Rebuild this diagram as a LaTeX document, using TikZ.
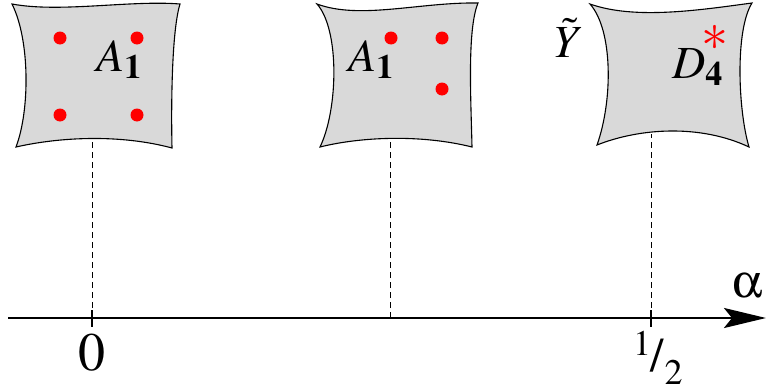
\documentclass[tikz,border=0pt]{standalone}
\usepackage[T1]{fontenc}
\usepackage{mathptmx}
\usepackage[Symbol]{upgreek}
\usetikzlibrary{arrows.meta, calc}

\begin{document}
\begin{tikzpicture}[
    x=1pt, y=-1pt,
    patch/.style={draw=black, line width=1.1pt, fill=black!15},
    sing/.style={circle, fill=red, inner sep=0pt, minimum size=13pt},
    guide/.style={line width=0.9pt, dash pattern=on 6pt off 4pt},
    axis/.style={line width=2.6pt, -{Stealth[length=42pt, width=20pt, inset=8pt]}},
    tick/.style={line width=2pt},
    lbl/.style={inner sep=0pt, anchor=base west, font=\fontsize{46}{46}\selectfont},
    num/.style={inner sep=0pt, font=\fontsize{54}{54}\selectfont},
]
\useasboundingbox (0,0) rectangle (766,388);

% Axis end points and the feet of the guides
\coordinate (ax0) at (8,318);
\coordinate (ax1) at (766,318);
\coordinate (o0) at (92,318);
\coordinate (om) at (390,318);
\coordinate (oh) at (651,318);
\coordinate (b0) at (92,140);
\coordinate (bm) at (390,140);
\coordinate (bh) at (651,134);

% Dashed guides (behind the patches)
\draw[guide] (o0) -- (b0);
\draw[guide] (om) -- (bm);
\draw[guide] (oh) -- (bh);

% Patches: alpha = 0, generic, alpha = 1/2
\draw[patch] (12,4) .. controls (60,13) and (130,0) .. (180,4)
    .. controls (172,30) and (171,100) .. (172,148)
    .. controls (120,134) and (60,137) .. (16,147)
    .. controls (30,110) and (30,40) .. (12,4) -- cycle;
\draw[patch] (317,4) .. controls (360,20) and (420,2) .. (478,3)
    .. controls (467,30) and (471,100) .. (472,147)
    .. controls (420,134) and (360,137) .. (320,147)
    .. controls (338,110) and (340,30) .. (317,4) -- cycle;
\draw[patch] (590,4) .. controls (635,20) and (700,10) .. (752,3)
    .. controls (735,30) and (738,110) .. (749,147)
    .. controls (700,124) and (640,128) .. (597,145)
    .. controls (613,100) and (613,30) .. (590,4) -- cycle;

% Singular points
\node[sing] (p1) at (60,38) {};
\node[sing] (p2) at (137,38) {};
\node[sing] (p3) at (60,115) {};
\node[sing] (p4) at (137,115) {};
\node[sing] (q1) at (391,38) {};
\node[sing] (q2) at (442,38) {};
\node[sing] (q3) at (442,89) {};

% Patch labels
\node[lbl] (la) at (96,71) {$A_{\mathbf{1}}$};
\node[lbl] (lb) at (348,71) {$A_{\mathbf{1}}$};
\node[lbl] (ly) at (555,57) {$\tilde{Y}$};
\node[lbl] (ld) at (672,78) {$D_{\mathbf{4}}$};
\node[inner sep=0pt, text=red, font=\fontsize{54}{54}\selectfont] (ls) at (715,50) {\smash{$\ast$}};

% Axis with ticks
\draw[axis] (ax0) -- (ax1);
\draw[tick] ($(o0)+(0,-8)$) -- ($(o0)+(0,9)$);
\draw[tick] ($(oh)+(0,-8)$) -- ($(oh)+(0,9)$);
\node[num] (n0) at (92,352) {0};
\node[inner sep=0pt, anchor=base west, font=\fontsize{36}{36}\selectfont] (nh) at (633,384)
    {\raisebox{29pt}{1}\kern-1pt\raisebox{13pt}{\fontsize{48}{48}\selectfont/}\kern1pt 2};
\node[inner sep=0pt, font=\fontsize{48}{48}\selectfont] (nal) at (748,286) {$\upalpha$};
\end{tikzpicture}
\end{document}
